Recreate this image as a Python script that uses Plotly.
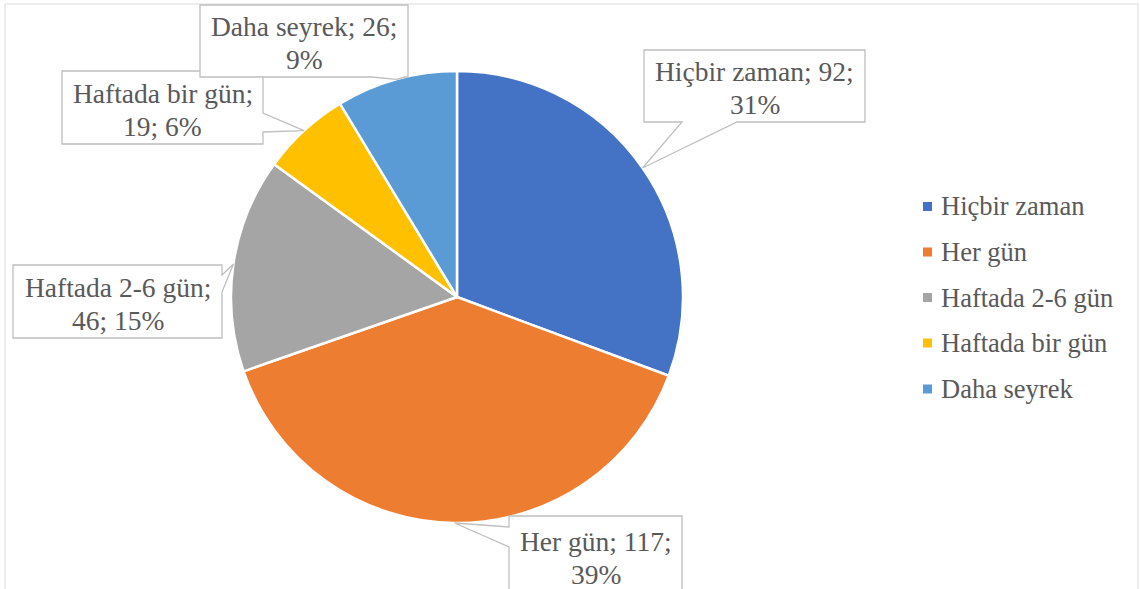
import math
import plotly.graph_objects as go

# ---- data ----
categories = ["Hiçbir zaman", "Her gün", "Haftada 2-6 gün", "Haftada bir gün", "Daha seyrek"]
values = [92, 117, 46, 19, 26]
colors = ["#4472C4", "#ED7D31", "#A5A5A5", "#FFC000", "#5B9BD5"]
label_break = [2, 2, 1, 1, 2]   # number of label tokens on the first line

# ---- layout geometry (pixels) ----
W, H = 1140, 589
CX, CY, R = 457, 297, 226
FONT = "Liberation Serif, Times New Roman, serif"
FS = 26.5
FS_LBL = 27.5
TXT = "#595959"
LINE_GAP = 33

def px(x):
    return x / W

def py(y):
    return 1 - y / H

# callout boxes: (x0, y0, x1, y1, side, base_a, base_b)
boxes = [
    (644, 50, 865, 122, "bottom", 682, 737),
    (509, 516, 682, 595, "left", 527, 547),
    (13, 265, 222, 338, "right", 275, 292),
    (62, 71, 263, 144, "right", 113, 132),
    (200, 5, 408, 77, "bottom", 372, 405),
]

fig = go.Figure()
fig.add_trace(go.Pie(
    labels=categories, values=values, sort=False, direction="clockwise", rotation=0,
    marker=dict(colors=colors, line=dict(color="white", width=2.5)),
    textinfo="none", hoverinfo="label+value+percent", showlegend=False,
    domain=dict(x=[px(CX - R), px(CX + R)], y=[py(CY + R), py(CY - R)]),
))

shapes = []
annotations = []

# chart border
shapes.append(dict(type="rect", xref="paper", yref="paper",
                   x0=px(5), y0=py(4), x1=px(1138), y1=py(640),
                   line=dict(color="#D9D9D9", width=1), fillcolor="rgba(0,0,0,0)", layer="below"))

total = sum(values)
cum = 0
for i, (cat, v) in enumerate(zip(categories, values)):
    mid = 2 * math.pi * (cum + v / 2) / total
    cum += v
    tx = CX + R * math.sin(mid)
    ty = CY - R * math.cos(mid)
    x0, y0, x1, y1, side, a, b = boxes[i]
    draw_y1 = y1 if side != "left" else 640
    if side == "bottom":
        pts = [(x0, y0), (x1, y0), (x1, y1), (b, y1), (tx, ty), (a, y1), (x0, y1)]
    elif side == "left":
        pts = [(x0, y0), (x1, y0), (x1, draw_y1), (x0, draw_y1), (x0, b), (tx, ty), (x0, a)]
    else:  # right
        pts = [(x0, y0), (x1, y0), (x1, a), (tx, ty), (x1, b), (x1, y1), (x0, y1)]
    path = "M " + " L ".join(f"{px(x):.5f},{py(y):.5f}" for x, y in pts) + " Z"
    shapes.append(dict(type="path", xref="paper", yref="paper", path=path,
                       line=dict(color="#BFBFBF", width=1.3), fillcolor="white"))
    pct = round(100 * v / total)
    tokens = [f"{cat};", f"{v};", f"{pct}%"]
    k = label_break[i]
    lines = [" ".join(tokens[:k]), " ".join(tokens[k:])]
    cy_text = (y0 + y1) / 2 + 2
    for j, ln in enumerate(lines):
        ly = cy_text + (j - 0.5) * LINE_GAP
        annotations.append(dict(x=px((x0 + x1) / 2), y=py(ly), xref="paper", yref="paper",
                                text=ln, showarrow=False, xanchor="center", yanchor="middle",
                                font=dict(family=FONT, size=FS_LBL, color=TXT)))

# custom legend
leg_y = [206.5, 252, 297.5, 343, 389]
for cat, col, ly in zip(categories, colors, leg_y):
    shapes.append(dict(type="rect", xref="paper", yref="paper",
                       x0=px(923), x1=px(932), y0=py(ly + 4.5), y1=py(ly - 4.5),
                       line=dict(width=0), fillcolor=col))
    annotations.append(dict(x=px(939), y=py(ly), xref="paper", yref="paper", text=cat,
                            showarrow=False, xanchor="left", yanchor="middle",
                            font=dict(family=FONT, size=FS, color=TXT)))

fig.update_layout(
    width=W, height=H, autosize=False,
    margin=dict(l=0, r=0, t=0, b=0),
    paper_bgcolor="white", plot_bgcolor="white",
    shapes=shapes, annotations=annotations,
    showlegend=False,
)

fig.write_html("out.html", config={"displayModeBar": False},
               post_script="document.body.style.margin='0';")
